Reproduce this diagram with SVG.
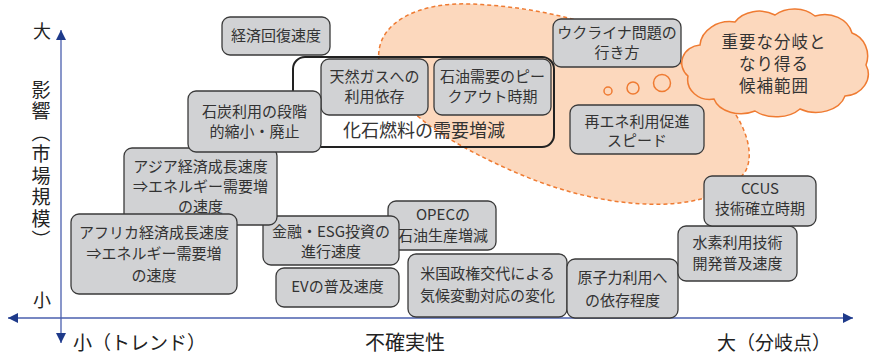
<svg xmlns="http://www.w3.org/2000/svg" width="873" height="355" viewBox="0 0 873 355">
<style>
.box{fill:#d1d2d4;stroke:#3a3a3a;stroke-width:1.3}
.t{font-family:"Noto Sans CJK JP","Noto Sans",sans-serif;font-size:15px;fill:#333;text-anchor:middle}
.ax{font-family:"Noto Sans CJK JP","Noto Sans",sans-serif;font-size:19px;fill:#222}
.peach{fill:#fcd8bd;stroke:#ef7b32;stroke-width:1.5}
.ct{font-family:"Noto Sans CJK JP","Noto Sans",sans-serif;font-size:16.5px;fill:#333;text-anchor:middle;letter-spacing:1px}
</style>
<defs>
<marker id="arr" viewBox="0 0 10 10" refX="10" refY="5" markerWidth="11" markerHeight="10" markerUnits="userSpaceOnUse" orient="auto-start-reverse">
<path d="M0,0 L10,5 L0,10 z" fill="#1e3a8a"/>
</marker>
</defs>
<rect width="873" height="355" fill="#fff"/>

<g id="axes">
<line x1="61" y1="30" x2="61" y2="343" stroke="#4a5fae" stroke-width="1.3" marker-start="url(#arr)" marker-end="url(#arr)"/>
<line x1="8" y1="318" x2="853" y2="318" stroke="#4a5fae" stroke-width="1.3" marker-start="url(#arr)" marker-end="url(#arr)"/>
<text class="ax" x="33" y="38" style="font-size:18px">大</text>
<text class="ax" x="33" y="307" style="font-size:18px">小</text>
<text class="ax" x="41" y="80" style="writing-mode:vertical-rl;font-size:19px;letter-spacing:2.5px">影響（市場規模）</text>
<text class="ax" x="73" y="350">小（トレンド）</text>
<text class="ax" x="365" y="350" style="font-size:20px">不確実性</text>
<text class="ax" x="717" y="350">大（分岐点）</text>
</g>

<g id="fossil">
<rect x="293" y="57" width="261" height="90" rx="12" fill="#fff"/>
</g>

<g id="candidate-region">
<path class="peach" stroke-dasharray="4,3" d="M379,62 C374,22 420,2 470,4 C560,7 650,38 705,80 C740,108 758,150 745,172 C725,198 685,206 645,204 C600,202 555,190 510,170 C470,152 440,135 420,118 C395,98 381,82 379,62 Z"/>
</g>

<g id="fossil-frame">
<rect x="293" y="57" width="261" height="90" rx="12" fill="none" stroke="#222" stroke-width="2"/>
<text class="t" x="424" y="137" style="font-size:18px">化石燃料の需要増減</text>
</g>

<g id="n-keizai"><rect class="box" x="222" y="17" width="108" height="38" rx="8"/><text class="t" x="276" y="41">経済回復速度</text></g>
<g id="n-gas"><rect class="box" x="321" y="59" width="107" height="56" rx="8"/><text class="t" x="374.5" y="82">天然ガスへの</text><text class="t" x="374.5" y="102">利用依存</text></g>
<g id="n-oil"><rect class="box" x="434" y="59" width="117" height="56" rx="8"/><text class="t" x="492.5" y="82">石油需要のピー</text><text class="t" x="492.5" y="102">クアウト時期</text></g>
<g id="n-opec"><rect class="box" x="388" y="201" width="108" height="49" rx="8"/><text class="t" x="443" y="220">OPECの</text><text class="t" x="443" y="241">石油生産増減</text></g>
<g id="n-esg"><rect class="box" x="263" y="216" width="136" height="49" rx="8"/><text class="t" x="331" y="237">金融・ESG投資の</text><text class="t" x="331" y="257">進行速度</text></g>
<g id="n-asia"><rect class="box" x="124" y="148" width="153" height="77" rx="8"/><text class="t" x="200.5" y="172">アジア経済成長速度</text><text class="t" x="200.5" y="192">⇒エネルギー需要増</text><text class="t" x="200.5" y="212">の速度</text></g>
<g id="n-coal"><rect class="box" x="188" y="91" width="133" height="61" rx="8"/><text class="t" x="254.5" y="117">石炭利用の段階</text><text class="t" x="254.5" y="137">的縮小・廃止</text></g>
<g id="n-africa"><rect class="box" x="71" y="214" width="166" height="80" rx="8"/><text class="t" x="154" y="238">アフリカ経済成長速度</text><text class="t" x="154" y="259">⇒エネルギー需要増</text><text class="t" x="154" y="281">の速度</text></g>
<g id="n-ev"><rect class="box" x="276" y="268" width="123" height="39" rx="8"/><text class="t" x="337.5" y="292">EVの普及速度</text></g>
<g id="n-us"><rect class="box" x="408" y="254" width="159" height="63" rx="8"/><text class="t" x="487.5" y="279">米国政権交代による</text><text class="t" x="487.5" y="301">気候変動対応の変化</text></g>
<g id="n-nuclear"><rect class="box" x="567" y="259" width="111" height="59" rx="8"/><text class="t" x="622.5" y="283">原子力利用へ</text><text class="t" x="622.5" y="306">の依存程度</text></g>
<g id="n-h2"><rect class="box" x="678" y="226" width="119" height="55" rx="8"/><text class="t" x="737.5" y="248">水素利用技術</text><text class="t" x="737.5" y="269">開発普及速度</text></g>
<g id="n-ccus"><rect class="box" x="704" y="176" width="112" height="50" rx="8"/><text class="t" x="760" y="194">CCUS</text><text class="t" x="760" y="214">技術確立時期</text></g>
<g id="n-ukraine"><rect class="box" x="553" y="19" width="128" height="48" rx="8"/><text class="t" x="617" y="38">ウクライナ問題の</text><text class="t" x="617" y="58">行き方</text></g>
<g id="n-renew"><rect class="box" x="570" y="105" width="134" height="49" rx="8"/><text class="t" x="637" y="127">再エネ利用促進</text><text class="t" x="637" y="146">スピード</text></g>

<g id="cloud">
<circle class="peach" cx="608" cy="91" r="4"/>
<circle class="peach" cx="633" cy="88" r="6"/>
<circle class="peach" cx="662" cy="83" r="8.5"/>
<path class="peach" d="M700,45 A30,25 0 0 1 735,22 A28,22 0 0 1 775,15 A28,22 0 0 1 815,16 A28,24 0 0 1 852,33 A22,24 0 0 1 866,65 A25,22 0 0 1 845,96 A30,22 0 0 1 800,109 A30,20 0 0 1 755,111 A28,20 0 0 1 714,99 A22,20 0 0 1 688,76 A20,18 0 0 1 700,45 Z"/>
<text class="ct" x="774" y="48">重要な分岐と</text>
<text class="ct" x="774" y="70">なり得る</text>
<text class="ct" x="774" y="92">候補範囲</text>
</g>
</svg>
